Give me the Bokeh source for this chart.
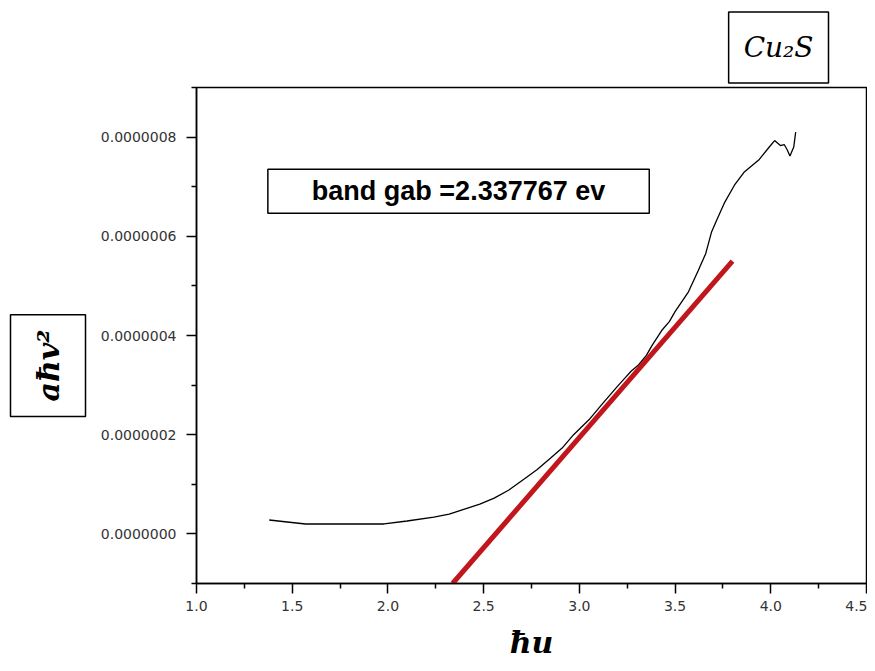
from bokeh.plotting import figure
from bokeh.models import Label, Title, FixedTicker, PrintfTickFormatter, Range1d
from bokeh.embed import file_html
from bokeh.resources import INLINE

# ---- data ----
energy = [1.38, 1.45, 1.57, 1.75, 1.98, 2.10, 2.24, 2.32, 2.40, 2.48, 2.555, 2.63,
          2.71, 2.78, 2.85, 2.91, 2.97, 3.05, 3.12, 3.20, 3.24, 3.27, 3.31, 3.35,
          3.38, 3.43, 3.47, 3.50, 3.57, 3.62, 3.66, 3.69, 3.72, 3.76, 3.81, 3.86,
          3.94, 3.99, 4.02, 4.05, 4.07, 4.085, 4.10, 4.12, 4.13]
absorb_e7 = [0.28, 0.25, 0.20, 0.20, 0.20, 0.26, 0.34, 0.40, 0.50, 0.60, 0.72, 0.88,
             1.10, 1.30, 1.53, 1.73, 2.00, 2.30, 2.62, 2.98, 3.15, 3.28, 3.41, 3.60,
             3.80, 4.10, 4.28, 4.48, 4.88, 5.30, 5.65, 6.08, 6.35, 6.69, 7.03, 7.29,
             7.55, 7.79, 7.93, 7.83, 7.85, 7.75, 7.62, 7.80, 8.10]
absorb = [v * 1e-7 for v in absorb_e7]

fit_x = [2.337767, 3.80]
fit_y = [-1.0e-7, 5.5e-7]

x_major = [1.0, 1.5, 2.0, 2.5, 3.0, 3.5, 4.0, 4.5]
x_minor = [1.25, 1.75, 2.25, 2.75, 3.25, 3.75, 4.25]
y_major = [0.0, 2e-7, 4e-7, 6e-7, 8e-7]
y_minor = [-1e-7, 1e-7, 3e-7, 5e-7, 7e-7, 9e-7]

band_text = "band gab =2.337767 ev"
title_text = "Cu\u2082S"
xlabel_text = "\u0127u"
ylabel_text = "a\u0127v\u00b2"

# ---- figure ----
p = figure(width=867, height=670, output_backend="svg", toolbar_location=None,
           x_range=Range1d(1.0, 4.5), y_range=Range1d(-1e-7, 9e-7),
           min_border_left=196, min_border_right=1, min_border_top=87,
           min_border_bottom=87)
p.grid.visible = False
p.background_fill_color = "white"
p.border_fill_color = "white"
p.outline_line_color = "black"
p.outline_line_width = 1.5

p.xaxis.ticker = FixedTicker(ticks=x_major, minor_ticks=x_minor)
p.yaxis.ticker = FixedTicker(ticks=y_major, minor_ticks=y_minor)
p.xaxis.formatter = PrintfTickFormatter(format="%.1f")
p.yaxis.formatter = PrintfTickFormatter(format="%.7f")
for ax in (p.xaxis, p.yaxis):
    ax.axis_line_color = "black"
    ax.axis_line_width = 1.5
    ax.major_tick_line_color = "black"
    ax.major_tick_line_width = 1.5
    ax.minor_tick_line_color = "black"
    ax.minor_tick_line_width = 1.5
    ax.major_tick_in = 0
    ax.major_tick_out = 10
    ax.minor_tick_in = 0
    ax.minor_tick_out = 5
    ax.major_label_text_font = "DejaVu Sans"
    ax.major_label_text_font_size = "14px"
    ax.major_label_text_color = "#333333"
p.xaxis.major_label_standoff = 7
p.yaxis.major_label_standoff = 10

p.line(energy, absorb, line_color="black", line_width=1.3)
p.line(fit_x, fit_y, line_color="#c0161c", line_width=5)

# ---- annotations ----
p.add_layout(Label(x=2.369, y=6.91e-7, text=band_text, text_align="center",
                   text_baseline="middle", text_font="Liberation Sans",
                   text_font_style="bold", text_font_size="27px", text_color="black",
                   border_line_color="black", border_line_width=1.5,
                   background_fill_color="white",
                   padding=dict(left=44, right=44, top=7, bottom=7)))

p.add_layout(Title(text=title_text, align="right", offset=38, standoff=9,
                   text_font="DejaVu Serif", text_font_style="italic",
                   text_font_size="28px", text_color="black",
                   border_line_color="black", border_line_width=1.5,
                   background_fill_color="white",
                   padding=dict(left=15, right=15, top=19, bottom=19)), "above")

p.add_layout(Title(text=ylabel_text, align="left", offset=167, standoff=24,
                   text_font="DejaVu Serif", text_font_style="bold italic",
                   text_font_size="30px", text_color="black",
                   border_line_color="black", border_line_width=1.5,
                   background_fill_color="white",
                   padding=dict(left=15, right=15, top=20, bottom=20)), "left")

p.add_layout(Title(text=xlabel_text, align="center", standoff=19,
                   text_font="DejaVu Serif", text_font_style="bold italic",
                   text_font_size="30px", text_color="black"), "below")

open("out.html", "w").write(file_html(p, INLINE))
